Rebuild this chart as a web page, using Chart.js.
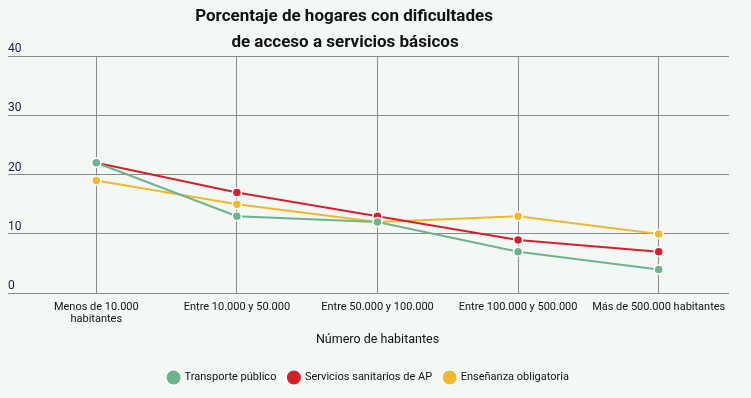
<!DOCTYPE html>
<html>
<head>
<meta charset="utf-8">
<script src="https://cdn.jsdelivr.net/npm/chart.js@4/dist/chart.umd.min.js"></script>
<style>
html,body{margin:0;padding:0;background:#f3f8f5;}
#wrap{width:751px;height:398px;position:relative;}
</style>
</head>
<body>
<div id="wrap"><canvas id="c" width="751" height="398"></canvas></div>
<script>
const titleLines = ['Porcentaje de hogares con dificultades', 'de acceso a servicios básicos'];
const categories = [['Menos de 10.000', 'habitantes'], 'Entre 10.000 y 50.000', 'Entre 50.000 y 100.000', 'Entre 100.000 y 500.000', 'Más de 500.000 habitantes'];
const transporte = [22, 13, 12, 7, 4];
const sanitarios = [22, 17, 13, 9, 7];
const ensenanza = [19, 15, 12, 13, 10];
const seriesNames = ['Transporte público', 'Servicios sanitarios de AP', 'Enseñanza obligatoria'];
const yTicks = [0, 10, 20, 30, 40];
const xTitle = 'Número de habitantes';

const colors = ['#6db38c', '#d71f2b', '#f0b72f'];
const FONT = 'Roboto, "Liberation Sans", sans-serif';

const titlePlugin = {
  id: 'customTitle',
  afterDraw(chart) {
    const ctx = chart.ctx;
    ctx.save();
    ctx.fillStyle = '#111111';
    ctx.font = 'bold 17px ' + FONT;
    ctx.textAlign = 'center';
    ctx.textBaseline = 'middle';
    ctx.fillText(titleLines[0], 344, 17);
    ctx.fillText(titleLines[1], 345, 43);
    ctx.restore();
  }
};

function ds(label, data, color) {
  return {
    label, data,
    borderColor: color,
    backgroundColor: color,
    borderWidth: 2,
    pointRadius: 4.5,
    pointHoverRadius: 5,
    pointBorderColor: '#ffffff',
    pointBorderWidth: 1.5,
    tension: 0
  };
}

new Chart(document.getElementById('c'), {
  type: 'line',
  data: {
    labels: categories,
    datasets: [
      ds(seriesNames[0], transporte, colors[0]),
      ds(seriesNames[1], sanitarios, colors[1]),
      ds(seriesNames[2], ensenanza, colors[2])
    ]
  },
  plugins: [titlePlugin],
  options: {
    responsive: false,
    animation: false,
    layout: { padding: { left: 8, right: 22, top: 56, bottom: 5 } },
    plugins: {
      legend: {
        position: 'bottom',
        labels: {
          usePointStyle: true,
          pointStyle: 'circle',
          boxWidth: 13, boxHeight: 13,
          padding: 12,
          color: '#111111',
          font: { family: FONT, size: 11 }
        }
      },
      tooltip: { enabled: false }
    },
    scales: {
      x: {
        offset: true,
        grid: { display: true, color: '#8a8a8a', lineWidth: 1, drawTicks: false, offset: false },
        border: { display: false },
        ticks: { color: '#111111', font: { family: FONT, size: 11, lineHeight: 1.1 }, padding: 8, maxRotation: 0, autoSkip: false },
        title: { display: true, text: xTitle, color: '#111111', font: { family: FONT, size: 12.5, lineHeight: 1.0 }, padding: { top: 0, bottom: 14 } }
      },
      y: {
        min: 0, max: 40,
        afterBuildTicks(scale) { scale.ticks = yTicks.map(v => ({ value: v })); },
        afterFit(scale) { scale.width = 18; },
        grid: { color: '#8a8a8a', lineWidth: 1, drawTicks: true, tickLength: 18 },
        border: { display: false },
        ticks: { mirror: true, padding: -18, labelOffset: -7, color: '#1a1a40', font: { family: FONT, size: 12 } }
      }
    }
  }
});
</script>
</body>
</html>
